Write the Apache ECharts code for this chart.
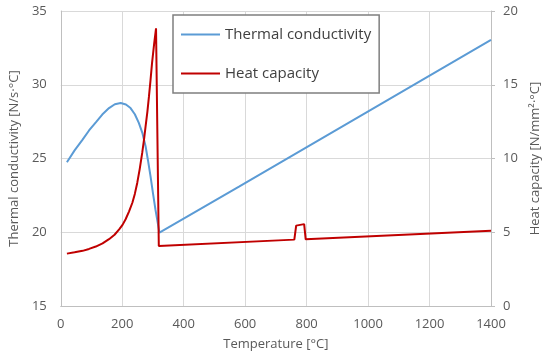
<!DOCTYPE html>
<html>
<head>
<meta charset="utf-8">
<script src="https://cdn.jsdelivr.net/npm/echarts@6/dist/echarts.min.js"></script>
<style>html,body{margin:0;padding:0;background:#fff;}#c{width:550px;height:356px;}</style>
</head>
<body>
<div id="c"></div>
<script>
const xTicks = [0, 200, 400, 600, 800, 1000, 1200, 1400];
const condTemp = [20, 45, 71, 92, 114, 135, 157, 176, 195, 212, 227, 241, 254, 266, 276, 284, 292, 300, 308, 321, 580, 1400];
const condVal  = [24.75, 25.55, 26.28, 26.9, 27.45, 27.98, 28.42, 28.68, 28.76, 28.66, 28.42, 28.0, 27.41, 26.7, 25.83, 24.85, 23.8, 22.65, 21.55, 19.98, 23.1, 33.05];
const capTemp = [20, 45, 71, 92, 114, 136, 157, 175, 190, 201, 211, 222, 233, 241, 249, 257, 265, 271, 276, 282, 287, 292, 297, 304, 310, 319, 760, 766, 792, 797, 1400];
const capVal  = [3.55, 3.64, 3.74, 3.87, 4.03, 4.25, 4.53, 4.83, 5.2, 5.5, 5.88, 6.4, 7.0, 7.6, 8.36, 9.3, 10.38, 11.3, 12.18, 13.2, 14.21, 15.3, 16.47, 17.8, 18.83, 4.07, 4.5, 5.45, 5.55, 4.52, 5.1];

const condData = condTemp.map((t, i) => [t, condVal[i]]);
const capData = capTemp.map((t, i) => [t, capVal[i]]);

const FONT = 'Open Sans';
const TXT = '#595959';
const chart = echarts.init(document.getElementById('c'), null, {renderer: 'canvas'});
chart.setOption({
  animation: false,
  textStyle: {fontFamily: FONT},
  grid: {left: 58, right: 59, top: 11, bottom: 49, containLabel: false},
  legend: {
    orient: 'vertical', left: 173, top: 15,
    backgroundColor: '#fff', borderColor: '#7f7f7f', borderWidth: 1.5,
    padding: [12, 8, 12, 8], itemGap: 24,
    icon: 'rect', itemWidth: 39, itemHeight: 2,
    textStyle: {fontFamily: FONT, fontSize: 15, color: '#404040'},
    data: ['Thermal conductivity', 'Heat capacity']
  },
  xAxis: {
    type: 'value', min: 0, max: 1400, interval: 200,
    name: 'Temperature [°C]', nameLocation: 'middle', nameGap: 32,
    nameTextStyle: {fontFamily: FONT, fontSize: 13, color: TXT},
    axisLine: {show: true, lineStyle: {color: '#bfbfbf', width: 1}},
    axisTick: {show: false},
    axisLabel: {fontFamily: FONT, fontSize: 13, color: TXT, margin: 12,
      formatter: v => xTicks.includes(v) ? String(v) : ''},
    splitLine: {show: true, lineStyle: {color: '#d9d9d9', width: 1}}
  },
  yAxis: [{
    type: 'value', min: 15, max: 35, interval: 5, position: 'left',
    name: 'Thermal conductivity [N/s·°C]', nameLocation: 'middle', nameGap: 36, nameRotate: 90,
    nameTextStyle: {fontFamily: FONT, fontSize: 13, color: TXT},
    axisLine: {show: true, lineStyle: {color: '#bfbfbf', width: 1}},
    axisTick: {show: false},
    axisLabel: {fontFamily: FONT, fontSize: 13, color: TXT, margin: 14},
    splitLine: {show: true, lineStyle: {color: '#d9d9d9', width: 1}}
  }, {
    type: 'value', min: 0, max: 20, interval: 5, position: 'right',
    name: 'Heat capacity [N/mm²·°C]', nameLocation: 'middle', nameGap: 38, nameRotate: 90,
    nameTextStyle: {fontFamily: FONT, fontSize: 13, color: TXT},
    axisLine: {show: true, lineStyle: {color: '#bfbfbf', width: 1}},
    axisTick: {show: true, length: 4, lineStyle: {color: '#bfbfbf'}},
    axisLabel: {fontFamily: FONT, fontSize: 13, color: TXT, margin: 12},
    splitLine: {show: false}
  }],
  series: [{
    name: 'Thermal conductivity', type: 'line', yAxisIndex: 0,
    data: condData, showSymbol: false, smooth: false,
    lineStyle: {color: '#5b9bd5', width: 2}, itemStyle: {color: '#5b9bd5'}
  }, {
    name: 'Heat capacity', type: 'line', yAxisIndex: 1,
    data: capData, showSymbol: false, smooth: false,
    lineStyle: {color: '#c00000', width: 2}, itemStyle: {color: '#c00000'}
  }]
});
</script>
</body>
</html>
